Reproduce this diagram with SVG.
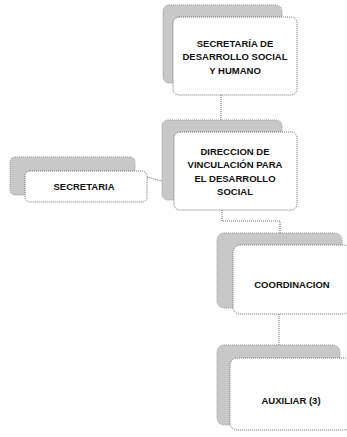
<svg xmlns="http://www.w3.org/2000/svg" width="347" height="437" viewBox="0 0 347 437">
<style>
.sh{fill:#c8c8c8;stroke:#9a9a9a;stroke-width:1;stroke-dasharray:1 1}
.fr{fill:#ffffff;stroke:#6e6e6e;stroke-width:1;stroke-dasharray:1 1}
.t{font-family:"Liberation Sans",Arial,sans-serif;font-weight:bold;font-size:9.5px;fill:#111111;text-anchor:middle}
.c{fill:none;stroke:#6e6e6e;stroke-width:1;stroke-dasharray:1 1}
</style>
<rect width="347" height="437" fill="#ffffff"/>
<g id="connectors">
<path class="c" d="M221 95V120"/>
<path class="c" d="M222 210V221H280V233"/>
<path class="c" d="M279 314V345"/>
<path class="c" d="M147 177L162 181"/>
</g>
<g id="n1">
<rect class="sh" x="163" y="5" width="119" height="78" rx="6"/>
<rect class="fr" x="173" y="17" width="124" height="78" rx="6"/>
<text class="t" x="235" y="47">SECRETARÍA DE</text>
<text class="t" x="235" y="60">DESARROLLO SOCIAL</text>
<text class="t" x="235" y="74">Y HUMANO</text>
</g>
<g id="n2">
<rect class="sh" x="162" y="120" width="120" height="80" rx="6"/>
<rect class="fr" x="174" y="132" width="123" height="78" rx="6"/>
<text class="t" x="235" y="155">DIRECCION DE</text>
<text class="t" x="235" y="168">VINCULACIÓN PARA</text>
<text class="t" x="235" y="182">EL DESARROLLO</text>
<text class="t" x="235" y="195">SOCIAL</text>
</g>
<g id="secretaria">
<rect class="sh" x="10" y="157" width="125" height="38" rx="5"/>
<rect class="fr" x="25" y="171" width="122" height="31" rx="5"/>
<text class="t" x="84" y="190">SECRETARIA</text>
</g>
<g id="coordinacion">
<rect class="sh" x="217" y="233" width="125" height="75" rx="7"/>
<rect class="fr" x="233" y="245" width="117" height="69" rx="7"/>
<text class="t" x="292" y="288">COORDINACION</text>
</g>
<g id="auxiliar">
<rect class="sh" x="217" y="345" width="123" height="80" rx="7"/>
<rect class="fr" x="230" y="358" width="122" height="72" rx="7"/>
<text class="t" x="291" y="404">AUXILIAR (3)</text>
</g>
</svg>
